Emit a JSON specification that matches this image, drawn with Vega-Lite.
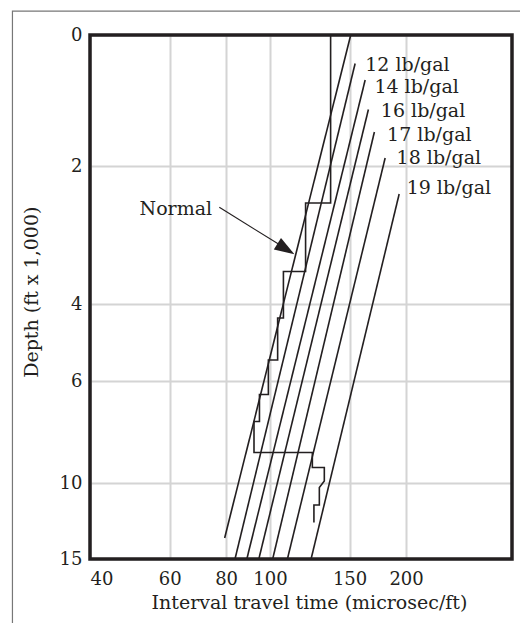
{
  "$schema": "https://vega.github.io/schema/vega-lite/v6.json",
  "width": 422,
  "height": 524,
  "autosize": {"type": "none"},
  "padding": {"left": 90, "top": 35, "right": 8, "bottom": 64},
  "background": "white",
  "config": {
    "view": {"stroke": null},
    "font": "DejaVu Serif"
  },
  "datasets": {
    "frame": [{"x": 26.95, "x2": 537.7, "y": -0.366, "y2": 24.28}],
    "border": [{"x": 40, "x2": 343, "y": 0, "y2": 15}],
    "lines": [
      {"s": "normal", "i": 1, "x": 150.9, "y": 0},
      {"s": "normal", "i": 2, "x": 79.4, "y": 13.618},
      {"s": "12", "i": 1, "x": 154.3, "y": 0.435},
      {"s": "12", "i": 2, "x": 83.7, "y": 15},
      {"s": "14", "i": 1, "x": 162.4, "y": 0.687},
      {"s": "14", "i": 2, "x": 88.9, "y": 15},
      {"s": "16", "i": 1, "x": 165.1, "y": 1.137},
      {"s": "16", "i": 2, "x": 94.5, "y": 15},
      {"s": "17", "i": 1, "x": 170.2, "y": 1.481},
      {"s": "17", "i": 2, "x": 101.4, "y": 15},
      {"s": "18", "i": 1, "x": 179.8, "y": 1.878},
      {"s": "18", "i": 2, "x": 109.3, "y": 15},
      {"s": "19", "i": 1, "x": 193.1, "y": 2.406},
      {"s": "19", "i": 2, "x": 123.3, "y": 15},
      {"s": "log", "i": 1, "x": 136.2, "y": 0},
      {"s": "log", "i": 2, "x": 136.2, "y": 2.536},
      {"s": "log", "i": 3, "x": 119.9, "y": 2.536},
      {"s": "log", "i": 4, "x": 119.9, "y": 3.529},
      {"s": "log", "i": 5, "x": 107.1, "y": 3.529},
      {"s": "log", "i": 6, "x": 107.1, "y": 4.364},
      {"s": "log", "i": 7, "x": 104.0, "y": 4.364},
      {"s": "log", "i": 8, "x": 104.0, "y": 5.455},
      {"s": "log", "i": 9, "x": 99.2, "y": 5.455},
      {"s": "log", "i": 10, "x": 99.2, "y": 6.529},
      {"s": "log", "i": 11, "x": 94.8, "y": 6.529},
      {"s": "log", "i": 12, "x": 94.8, "y": 7.588},
      {"s": "log", "i": 13, "x": 92.2, "y": 7.588},
      {"s": "log", "i": 14, "x": 92.2, "y": 8.804},
      {"s": "log", "i": 15, "x": 124.1, "y": 8.804},
      {"s": "log", "i": 16, "x": 124.1, "y": 9.392},
      {"s": "log", "i": 17, "x": 131.9, "y": 9.392},
      {"s": "log", "i": 18, "x": 131.9, "y": 9.922},
      {"s": "log", "i": 19, "x": 128.6, "y": 10.296},
      {"s": "log", "i": 20, "x": 128.6, "y": 11.447},
      {"s": "log", "i": 21, "x": 125.1, "y": 11.447},
      {"s": "log", "i": 22, "x": 125.1, "y": 12.599}
    ],
    "arrow": [
      {"i": 1, "x": 77.27, "y": 2.599},
      {"i": 2, "x": 112.0, "y": 3.255}
    ],
    "head": [{"x": 113.25, "y": 3.28, "a": 32}],
    "labels": [
      {"x": 162.4, "y": 0.542, "t": "12 lb/gal"},
      {"x": 170.2, "y": 0.893, "t": "14 lb/gal"},
      {"x": 175.9, "y": 1.252, "t": "16 lb/gal"},
      {"x": 181.6, "y": 1.618, "t": "17 lb/gal"},
      {"x": 190.6, "y": 1.962, "t": "18 lb/gal"},
      {"x": 200.6, "y": 2.406, "t": "19 lb/gal"}
    ],
    "normal": [{"x": 74.5, "y": 2.703, "t": "Normal"}]
  },
  "encoding": {
    "x": {
      "field": "x",
      "type": "quantitative",
      "scale": {"type": "log", "domain": [40, 343], "nice": false, "zero": false},
      "axis": {
        "values": [40, 60, 80, 100, 150, 200],
        "ticks": false,
        "domain": false,
        "grid": true,
        "gridColor": "#d4d4d4",
        "gridWidth": 2,
        "labelFont": "DejaVu Serif",
        "labelFontSize": 18,
        "labelColor": "#231f20",
        "labelPadding": 25,
        "labelBaseline": "alphabetic",
        "labelFlush": true,
        "labelOverlap": false,
        "title": "Interval travel time (microsec/ft)",
        "titleFont": "DejaVu Serif",
        "titleFontSize": 19,
        "titleFontWeight": "normal",
        "titleColor": "#231f20",
        "titleX": 219,
        "titleY": 49.3,
        "titleBaseline": "alphabetic",
        "titleAlign": "center"
      }
    },
    "y": {
      "field": "y",
      "type": "quantitative",
      "scale": {"domain": [0, 2, 4, 6, 10, 15], "range": [0, 131, 269, 346, 448, 524], "nice": false, "zero": false},
      "axis": {
        "values": [0, 2, 4, 6, 10, 15],
        "ticks": false,
        "domain": false,
        "grid": true,
        "gridColor": "#d4d4d4",
        "gridWidth": 2,
        "labelFont": "DejaVu Serif",
        "labelFontSize": 18,
        "labelColor": "#231f20",
        "labelPadding": 8,
        "labelAlign": "right",
        "labelBaseline": "middle",
        "labelOverlap": false,
        "title": "Depth (ft x 1,000)",
        "titleFont": "DejaVu Serif",
        "titleFontSize": 19,
        "titleFontWeight": "normal",
        "titleColor": "#231f20",
        "titleAngle": -90,
        "titleX": -53,
        "titleY": 256.7,
        "titleBaseline": "alphabetic",
        "titleAlign": "center"
      }
    }
  },
  "layer": [
    {
      "data": {"name": "frame"},
      "mark": {"type": "rect", "fill": null, "stroke": "#777777", "strokeWidth": 1.2, "clip": false},
      "encoding": {"x2": {"field": "x2"}, "y2": {"field": "y2"}}
    },
    {
      "data": {"name": "lines"},
      "mark": {"type": "line", "color": "#231f20", "strokeWidth": 1.6},
      "encoding": {"detail": {"field": "s"}, "order": {"field": "i"}}
    },
    {
      "data": {"name": "arrow"},
      "mark": {"type": "line", "color": "#231f20", "strokeWidth": 1.2},
      "encoding": {"order": {"field": "i"}}
    },
    {
      "data": {"name": "head"},
      "mark": {"type": "point", "shape": "M0,0L-1,-0.34L-1,0.34Z", "size": 1600, "filled": true, "color": "#231f20", "opacity": 1, "angle": 32}
    },
    {
      "data": {"name": "labels"},
      "mark": {"type": "text", "align": "left", "baseline": "alphabetic", "font": "DejaVu Serif", "fontSize": 19, "color": "#231f20"},
      "encoding": {"text": {"field": "t"}}
    },
    {
      "data": {"name": "normal"},
      "mark": {"type": "text", "align": "right", "baseline": "alphabetic", "font": "DejaVu Serif", "fontSize": 19, "color": "#231f20"},
      "encoding": {"text": {"field": "t"}}
    },
    {
      "data": {"name": "border"},
      "mark": {"type": "rect", "fill": null, "stroke": "#231f20", "strokeWidth": 3.5, "clip": false},
      "encoding": {"x2": {"field": "x2"}, "y2": {"field": "y2"}}
    }
  ]
}
